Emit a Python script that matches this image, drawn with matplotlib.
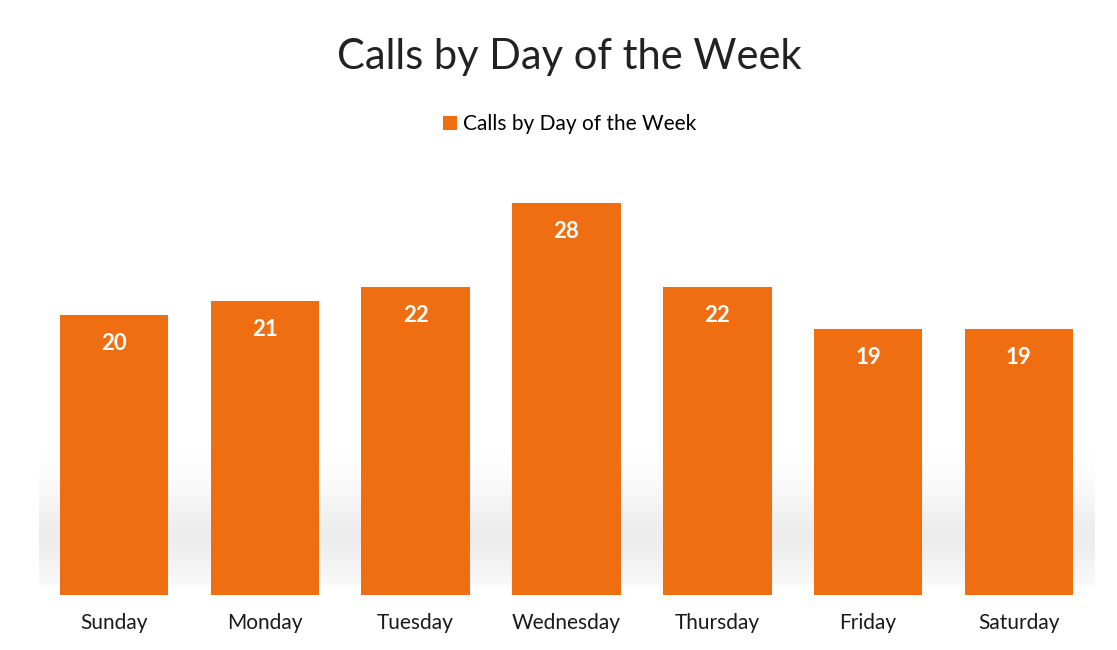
import numpy as np
import matplotlib.pyplot as plt

days = ['Sunday', 'Monday', 'Tuesday', 'Wednesday', 'Thursday', 'Friday', 'Saturday']
calls = [20, 21, 22, 28, 22, 19, 19]
bar_color = '#EF6E12'

plt.rcParams['font.family'] = ['Lato', 'DejaVu Sans']

fig = plt.figure(figsize=(11.17, 6.5), dpi=100)
fig.patch.set_facecolor('white')
ax = fig.add_axes([0.0346, 0.0846, 0.945, 0.646])

x = np.arange(len(days))

# faint grey shadow band behind the bars, like the scanned original
grad = np.linspace(0, 1, 200).reshape(-1, 1)
shade = np.exp(-((grad - 0.35) / 0.28) ** 2) * (grad > 0.06)
ax.imshow(shade, extent=[-0.5, 6.5, 0, 12], aspect='auto', cmap='Greys',
          vmin=0, vmax=7, origin='lower', zorder=0, interpolation='bilinear')

bars = ax.bar(x, calls, width=0.72, color=bar_color, zorder=2)
for b, v in zip(bars, calls):
    ax.text(b.get_x() + b.get_width() / 2, v - 2.0, str(v), ha='center', va='center',
            color='white', fontsize=16, fontweight='bold', zorder=3)

ax.set_xlim(-0.5, 6.5)
ax.set_ylim(0, 30)
ax.set_xticks(x)
ax.set_xticklabels(days, fontsize=15, color='#1a1a1a')
ax.tick_params(axis='x', length=0, pad=13)
ax.set_yticks([])
for s in ax.spines.values():
    s.set_visible(False)

fig.text(0.51, 0.912, 'Calls by Day of the Week', ha='center', va='center',
         fontsize=30, color='#222222')
fig.legend([bars[0]], ['Calls by Day of the Week'], loc='center',
           bbox_to_anchor=(0.51, 0.809), frameon=False, fontsize=15,
           handlelength=0.7, handleheight=0.7, handletextpad=0.3)

fig.savefig('out.png', dpi=100)
